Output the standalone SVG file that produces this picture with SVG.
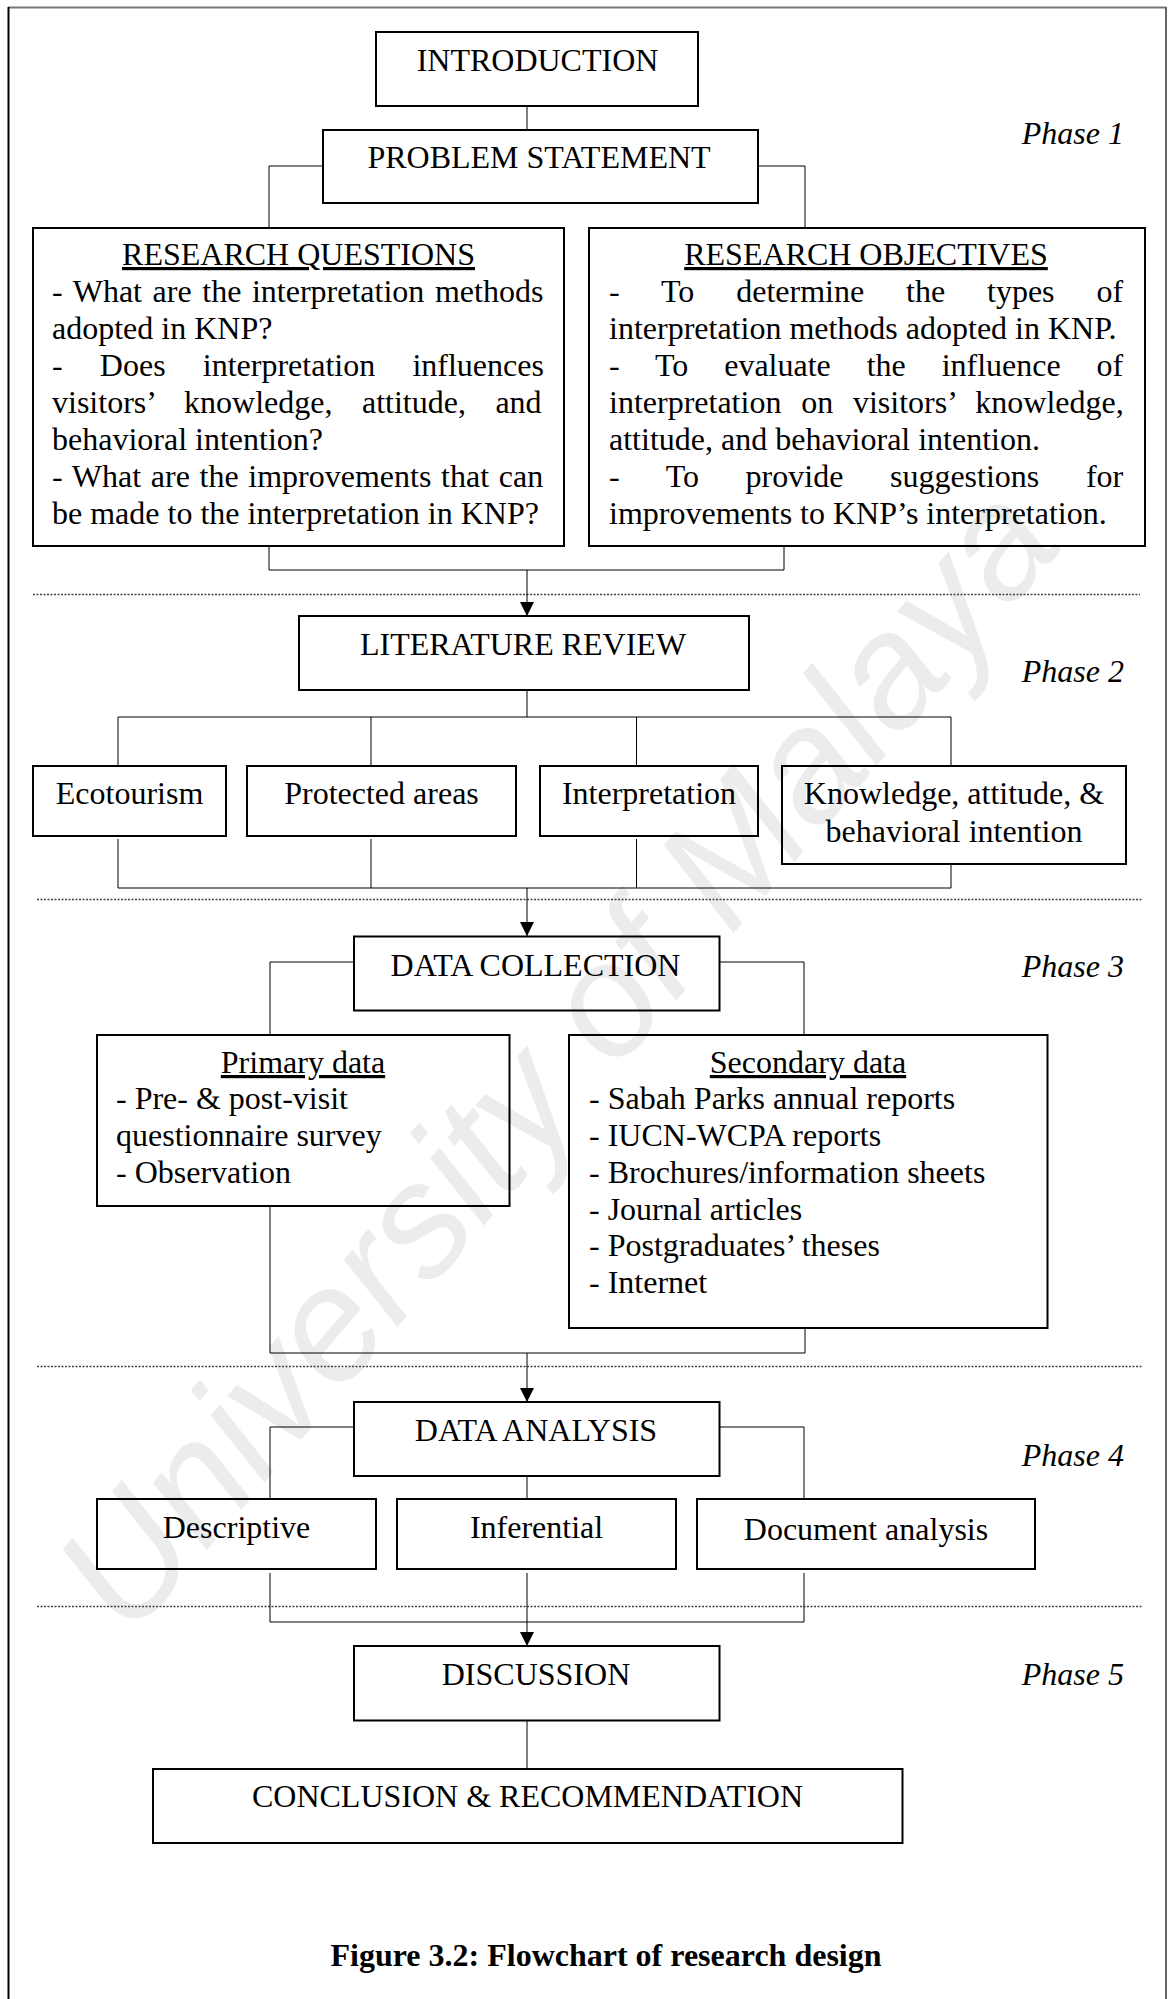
<svg xmlns="http://www.w3.org/2000/svg" width="1170" height="1999" viewBox="0 0 1170 1999">
  <defs>
    <marker id="arrow" viewBox="0 0 14 14" refX="14" refY="7" markerWidth="14" markerHeight="14" markerUnits="userSpaceOnUse" orient="auto">
      <path d="M0,0 L14,7 L0,14 Z" fill="#000"/>
    </marker>
    <style>
      .box { fill: none; stroke: #000; stroke-width: 2; }
      .t { font-family: "Liberation Serif", "Times New Roman", serif; font-size: 32px; fill: #000; }
      .c { text-anchor: middle; }
      .phase { font-style: italic; text-anchor: end; }
      .u { text-decoration: underline; }
      .conn { fill: none; stroke: #000; stroke-width: 1; }
      .sep { stroke: #444; stroke-width: 1.3; stroke-dasharray: 2 1.5; }
      .wm { font-family: "Liberation Sans", Arial, sans-serif; font-size: 160px; font-style: italic; fill: #ececec; }
    </style>
  </defs>

  <rect width="1170" height="1999" fill="#fff"/>

  <!-- background watermark -->
  <text class="wm" transform="translate(130,1640) rotate(-49.5)">University of Malaya</text>

  <!-- page frame -->
  <g id="frame">
    <line x1="8" y1="7.5" x2="1166" y2="7.5" stroke="#777" stroke-width="2"/>
    <line x1="1166" y1="7" x2="1166" y2="1999" stroke="#666" stroke-width="2"/>
    <line x1="8.5" y1="7" x2="8.5" y2="1999" stroke="#000" stroke-width="2"/>
  </g>

  <!-- phase separators -->
  <g id="separators">
    <line class="sep" x1="33" y1="594.5" x2="1140" y2="594.5"/>
    <line class="sep" x1="37" y1="899.5" x2="1143" y2="899.5"/>
    <line class="sep" x1="37" y1="1366.5" x2="1143" y2="1366.5"/>
    <line class="sep" x1="37" y1="1606.5" x2="1143" y2="1606.5"/>
  </g>

  <!-- connectors -->
  <g id="connectors">
    <path class="conn" d="M527,106 V130"/>
    <path class="conn" d="M323,166 H269 V228"/>
    <path class="conn" d="M758,166 H805 V228"/>
    <path class="conn" d="M269,546 V570 H784 V546"/>
    <path class="conn" d="M527,570 V616" marker-end="url(#arrow)"/>

    <path class="conn" d="M527,690 V717"/>
    <path class="conn" d="M118,766 V717 H951 V766"/>
    <path class="conn" d="M371,717 V766"/>
    <path class="conn" d="M636.5,717 V766"/>
    <path class="conn" d="M118,839 V888 H951 V864"/>
    <path class="conn" d="M371,839 V888"/>
    <path class="conn" d="M636.5,839 V888"/>
    <path class="conn" d="M527,888 V936" marker-end="url(#arrow)"/>

    <path class="conn" d="M354,962 H270 V1035"/>
    <path class="conn" d="M719.5,962 H804 V1035"/>
    <path class="conn" d="M270,1206 V1353 H805 V1328"/>
    <path class="conn" d="M527,1353 V1402" marker-end="url(#arrow)"/>

    <path class="conn" d="M354,1427 H270 V1499"/>
    <path class="conn" d="M719.5,1427 H804 V1499"/>
    <path class="conn" d="M527,1476 V1499"/>
    <path class="conn" d="M270,1573 V1622 H804 V1573"/>
    <path class="conn" d="M527,1573 V1646" marker-end="url(#arrow)"/>

    <path class="conn" d="M527,1721 V1769"/>
  </g>

  <!-- Phase 1 -->
  <g id="introduction">
    <rect class="box" x="376" y="32" width="322" height="74"/>
    <text class="t c" x="537.5" y="71">INTRODUCTION</text>
  </g>
  <g id="problem-statement">
    <rect class="box" x="323" y="130" width="435" height="73"/>
    <text class="t c" x="539" y="168">PROBLEM STATEMENT</text>
  </g>
  <g id="research-questions">
    <rect class="box" x="33" y="228" width="531" height="318"/>
    <text class="t c u" x="298.5" y="265">RESEARCH QUESTIONS</text>
    <text class="t" x="52" y="301.5" word-spacing="2.6">- What are the interpretation methods</text>
    <text class="t" x="52" y="338.5">adopted in KNP?</text>
    <text class="t" x="52" y="375.5" word-spacing="29.2">- Does interpretation influences</text>
    <text class="t" x="52" y="412.5" word-spacing="21.5">visitors’ knowledge, attitude, and</text>
    <text class="t" x="52" y="449.5">behavioral intention?</text>
    <text class="t" x="52" y="486.5" word-spacing="1.7">- What are the improvements that can</text>
    <text class="t" x="52" y="523.5">be made to the interpretation in KNP?</text>
  </g>
  <g id="research-objectives">
    <rect class="box" x="589" y="228" width="556" height="318"/>
    <text class="t c u" x="866" y="265">RESEARCH OBJECTIVES</text>
    <text class="t" x="609" y="301.5" word-spacing="33.9">- To determine the types of</text>
    <text class="t" x="609" y="338.5">interpretation methods adopted in KNP.</text>
    <text class="t" x="609" y="375.5" word-spacing="27.9">- To evaluate the influence of</text>
    <text class="t" x="609" y="412.5" word-spacing="11.8">interpretation on visitors’ knowledge,</text>
    <text class="t" x="609" y="449.5">attitude, and behavioral intention.</text>
    <text class="t" x="609" y="486.5" word-spacing="38.6">- To provide suggestions for</text>
    <text class="t" x="609" y="523.5">improvements to KNP’s interpretation.</text>
  </g>
  <text class="t phase" x="1124" y="144">Phase 1</text>

  <!-- Phase 2 -->
  <g id="literature-review">
    <rect class="box" x="299" y="616" width="450" height="74"/>
    <text class="t c" x="523" y="655">LITERATURE REVIEW</text>
  </g>
  <g id="ecotourism">
    <rect class="box" x="33" y="766" width="193" height="70"/>
    <text class="t c" x="129.5" y="804">Ecotourism</text>
  </g>
  <g id="protected-areas">
    <rect class="box" x="247" y="766" width="269" height="70"/>
    <text class="t c" x="381.5" y="804">Protected areas</text>
  </g>
  <g id="interpretation">
    <rect class="box" x="540" y="766" width="218" height="70"/>
    <text class="t c" x="649" y="804">Interpretation</text>
  </g>
  <g id="kab">
    <rect class="box" x="782" y="766" width="344" height="98"/>
    <text class="t c" x="954" y="804">Knowledge, attitude, &amp;</text>
    <text class="t c" x="954" y="842">behavioral intention</text>
  </g>
  <text class="t phase" x="1124" y="682">Phase 2</text>

  <!-- Phase 3 -->
  <g id="data-collection">
    <rect class="box" x="354" y="936.5" width="365.5" height="74"/>
    <text class="t c" x="535.5" y="976">DATA COLLECTION</text>
  </g>
  <g id="primary-data">
    <rect class="box" x="97" y="1035" width="412.5" height="171"/>
    <text class="t c u" x="303" y="1073">Primary data</text>
    <text class="t" x="116" y="1109">- Pre- &amp; post-visit</text>
    <text class="t" x="116" y="1146">questionnaire survey</text>
    <text class="t" x="116" y="1183">- Observation</text>
  </g>
  <g id="secondary-data">
    <rect class="box" x="569" y="1035" width="478.5" height="293"/>
    <text class="t c u" x="808" y="1073">Secondary data</text>
    <text class="t" x="589" y="1109">- Sabah Parks annual reports</text>
    <text class="t" x="589" y="1146">- IUCN-WCPA reports</text>
    <text class="t" x="589" y="1183">- Brochures/information sheets</text>
    <text class="t" x="589" y="1219.5">- Journal articles</text>
    <text class="t" x="589" y="1256">- Postgraduates’ theses</text>
    <text class="t" x="589" y="1293">- Internet</text>
  </g>
  <text class="t phase" x="1124" y="977">Phase 3</text>

  <!-- Phase 4 -->
  <g id="data-analysis">
    <rect class="box" x="354" y="1402" width="365.5" height="74"/>
    <text class="t c" x="536" y="1441">DATA ANALYSIS</text>
  </g>
  <g id="descriptive">
    <rect class="box" x="97" y="1499" width="279" height="70"/>
    <text class="t c" x="236.5" y="1538">Descriptive</text>
  </g>
  <g id="inferential">
    <rect class="box" x="397" y="1499" width="279" height="70"/>
    <text class="t c" x="536.5" y="1538">Inferential</text>
  </g>
  <g id="document-analysis">
    <rect class="box" x="697" y="1499" width="338" height="70"/>
    <text class="t c" x="866" y="1540">Document analysis</text>
  </g>
  <text class="t phase" x="1124" y="1466">Phase 4</text>

  <!-- Phase 5 -->
  <g id="discussion">
    <rect class="box" x="354" y="1646" width="365.5" height="74.5"/>
    <text class="t c" x="536" y="1685">DISCUSSION</text>
  </g>
  <g id="conclusion">
    <rect class="box" x="153" y="1769" width="749.5" height="74"/>
    <text class="t c" x="527.5" y="1807">CONCLUSION &amp; RECOMMENDATION</text>
  </g>
  <text class="t phase" x="1124" y="1685">Phase 5</text>

  <!-- caption -->
  <text class="t c" x="606" y="1966" font-weight="bold">Figure 3.2: Flowchart of research design</text>
</svg>
